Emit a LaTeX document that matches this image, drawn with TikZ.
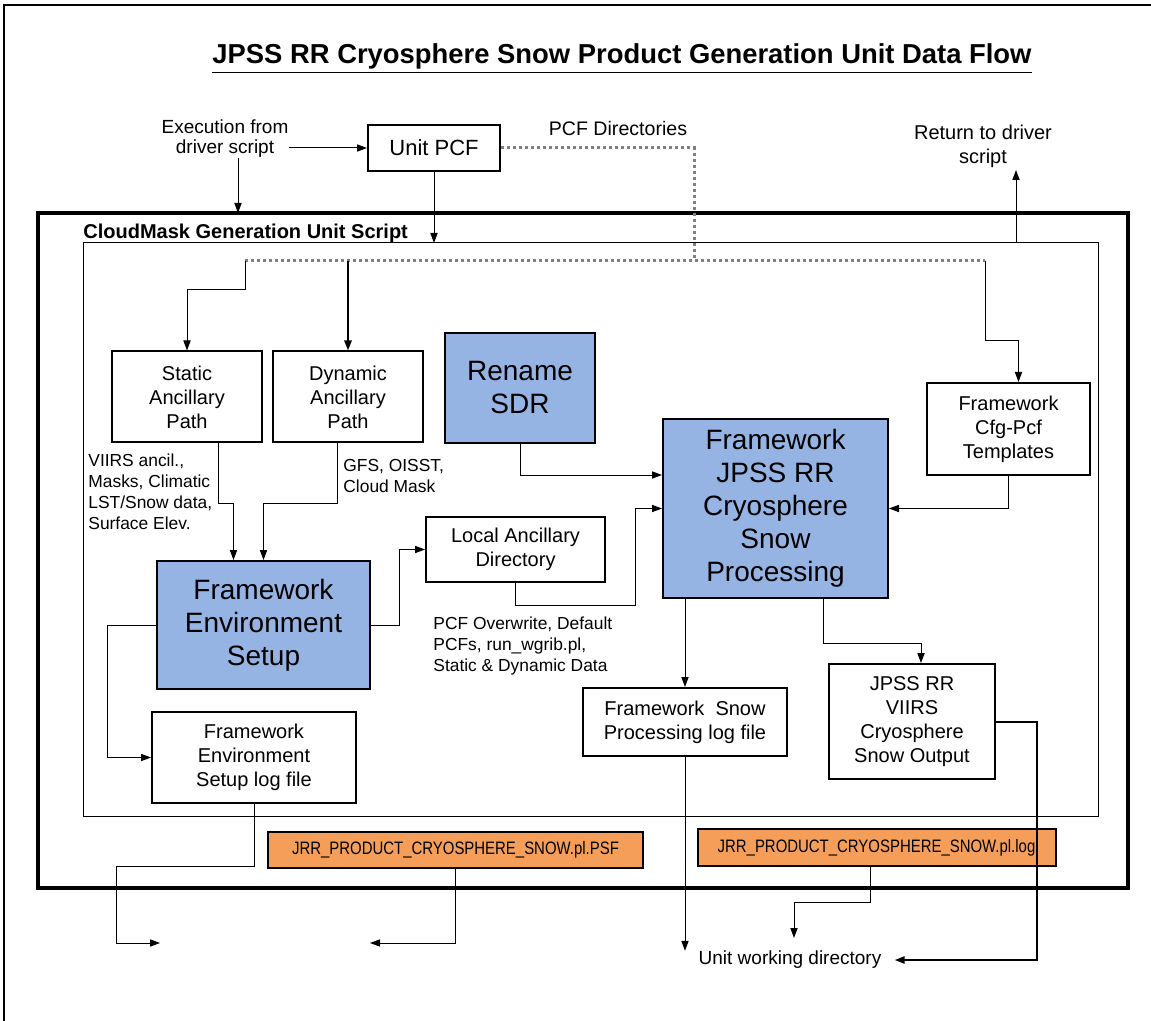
\documentclass[tikz,border=0pt]{standalone}
\usepackage{fontspec}
\setmainfont{Liberation Sans}
\usepackage{graphicx}
\usetikzlibrary{arrows.meta}
\definecolor{procblue}{RGB}{149,180,227}
\definecolor{fileorange}{RGB}{245,158,90}
\begin{document}
\begin{tikzpicture}[x=0.5pt,y=-0.5pt,
  every node/.style={inner sep=0pt,align=center},
  box/.style={draw,line width=1pt,fill=white,font=\fontsize{10}{12}\selectfont},
  procbox/.style={box,fill=procblue,font=\fontsize{14}{16.5}\selectfont},
  filebox/.style={draw,line width=1pt,fill=fileorange,font=\fontsize{9}{10}\selectfont},
  note/.style={font=\fontsize{8.7}{10.5}\selectfont,align=left},
  conn/.style={line width=0.5pt,-{Triangle[length=5pt,width=3.6pt]}},
  pcfpath/.style={draw=gray,line width=1.5pt,dash pattern=on 1.5pt off 1.5pt}]
\useasboundingbox (0,0) rectangle (1151,1021);
\draw[line width=1pt] (4,1021) |- (1151,5);
% title and driver side
\node[font=\fontsize{13.7}{16}\selectfont\bfseries,anchor=base] (title) at (622,64)
  {\underline{JPSS RR Cryosphere Snow Product Generation Unit Data Flow}};
\node[font=\fontsize{9.5}{10}\selectfont] (exec) at (225,139) {Execution from\\driver script};
\node[box,font=\fontsize{11}{13}\selectfont,minimum width=66pt,minimum height=23pt] (upcf) at (434,148) {Unit PCF};
\node[font=\fontsize{9.8}{12}\selectfont] (pcfdir) at (618,128) {PCF Directories};
\node[font=\fontsize{10}{12}\selectfont] (ret) at (983,146) {Return to driver\\script};
% unit script frames
\draw[line width=2pt] (38,213) rectangle (1128,888);
\draw[line width=0.5pt] (83,243) rectangle (1098,816);
\node[font=\fontsize{10}{12}\selectfont\bfseries,anchor=west] (unitscript) at (83,233) {CloudMask Generation Unit Script};
% boxes
\node[box,minimum width=75pt,minimum height=45.5pt] (static) at (187,397) {Static\\Ancillary\\Path};
\node[box,minimum width=75pt,minimum height=45.5pt] (dynamic) at (348,397) {Dynamic\\Ancillary\\Path};
\node[procbox,minimum width=75pt,minimum height=55pt] (rename) at (520,388) {Rename\\SDR};
\node[procbox,minimum width=112.5pt,minimum height=89.5pt] (jpss) at (775.5,508.5) {Framework\\JPSS RR\\Cryosphere\\Snow\\Processing};
\node[box,minimum width=81.5pt,minimum height=46pt] (cfg) at (1008.5,429) {Framework\\Cfg-Pcf\\Templates};
\node[box,minimum width=89.5pt,minimum height=32.5pt] (local) at (515.5,549.5) {Local Ancillary\\Directory};
\node[procbox,minimum width=106.5pt,minimum height=64pt] (env) at (263.5,625) {Framework\\Environment\\Setup};
\node[box,minimum width=102pt,minimum height=45.5pt] (envlog) at (254,757.5) {Framework\\Environment\\Setup log file};
\node[box,minimum width=102pt,minimum height=34pt] (snowlog) at (685,722) {Framework\ \ Snow\\Processing log file};
\node[box,minimum width=83pt,minimum height=57.5pt] (output) at (912,721.5) {JPSS RR\\VIIRS\\Cryosphere\\Snow Output};
\node[filebox,minimum width=187.5pt,minimum height=18pt] (psf) at (455.5,849.5)
  {\scalebox{0.83}[1]{JRR\_PRODUCT\_CRYOSPHERE\_SNOW.pl.PSF}};
\node[filebox,minimum width=179pt,minimum height=18.5pt] (logf) at (876.5,847.5)
  {\scalebox{0.83}[1]{JRR\_PRODUCT\_CRYOSPHERE\_SNOW.pl.log}};
% data labels
\node[note,anchor=north west] (staticdata) at (88,453) {VIIRS ancil.,\\Masks, Climatic\\LST/Snow data,\\Surface Elev.};
\node[note,anchor=north west] (dyndata) at (343,459) {GFS, OISST,\\Cloud Mask};
\node[note,anchor=north west] (localdata) at (433,616) {PCF Overwrite, Default\\PCFs, run\_wgrib.pl,\\Static \& Dynamic Data};
\node[font=\fontsize{9.5}{11}\selectfont] (unitwd) at (790,960) {Unit working directory};
% free ends
\coordinate (execin) at (238,213);
\coordinate (pcfin) at (434,243);
\coordinate (retin) at (1016,243);
\coordinate (retout) at (1016,170);
\coordinate (pcfturn) at (694,261);
\coordinate (dl) at (245,261);
\coordinate (dr) at (985,261);
\coordinate (envout) at (160,943);
\coordinate (psfout) at (370,943);
\coordinate (logout) at (794,938);
% connectors
\draw[conn] (exec.east |- upcf.west) -- (upcf.west);
\draw[conn] (exec.south -| execin) -- (execin);
\draw[conn] (upcf.south) -- (pcfin);
\draw[conn] (retin) -- (retout);
\draw[pcfpath] (upcf.east) -| (pcfturn);
\draw[pcfpath] (dl) -- (dr);
\draw[conn] (dl) -- ++(0,29) -| (static.north);
\draw[conn,line width=1pt] (dynamic.north |- dl) -- (dynamic.north);
\draw[conn] (dr) -- ++(0,80) -| ([xshift=5pt]cfg.north);
\draw[conn] ([xshift=15.5pt]static.south) -- ++(0,60) -| ([xshift=-15pt]env.north);
\draw[conn] ([xshift=-5.5pt]dynamic.south) -- ++(0,60) -| (env.north);
\draw[conn] (rename.south) |- ([yshift=16.75pt]jpss.west);
\draw[conn] (local.south) -- ++(0,22) -| ([xshift=-13.5pt]jpss.west) -- (jpss.west);
\draw[conn] (cfg.south) |- (jpss.east);
\draw[conn] (env.east) -- ++(28,0) |- (local.west);
\draw[conn] (env.west) -- ++(-49,0) |- (envlog.west);
\draw[conn] (snowlog.north |- jpss.south) -- (snowlog.north);
\draw[conn] ([xshift=24pt]jpss.south) -- ++(0,44) -| ([xshift=4.5pt]output.north);
\draw[conn,line width=1pt] (output.east) -- ++(41,0) |- ([xshift=6.5pt]unitwd.east);
\draw[conn] (snowlog.south) -- (snowlog.south |- unitwd.north);
\draw[conn] (envlog.south) -- ++(0,62) -| ([xshift=-22pt]envout) -- (envout);
\draw[conn] (psf.south) |- (psfout);
\draw[conn] ([xshift=-3.25pt]logf.south) -- ++(0,35) -| (logout);
\end{tikzpicture}
\end{document}
